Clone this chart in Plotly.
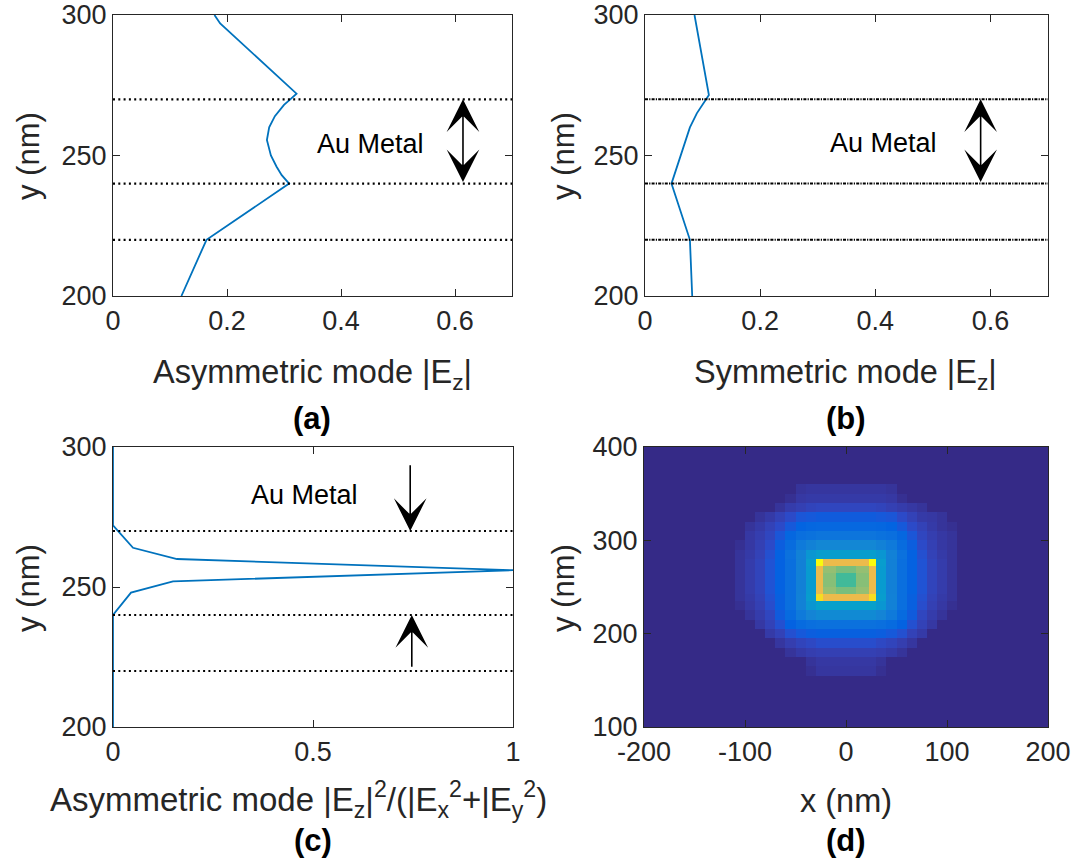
import plotly.graph_objects as go

# ---------------- data ----------------
# (a) asymmetric mode |Ez|
a_y = [200, 220, 240, 243, 246, 250, 255.5, 260, 264, 268, 270, 272, 297, 300]
a_x = [0.120, 0.164, 0.309, 0.296, 0.287, 0.277, 0.270, 0.274, 0.284, 0.300, 0.311, 0.322, 0.188, 0.178]
# (b) symmetric mode |Ez|
b_y = [200, 220, 240, 245, 250, 255, 260, 265, 270, 271.5, 300]
b_x = [0.082, 0.078, 0.046, 0.054, 0.061, 0.070, 0.078, 0.090, 0.105, 0.111, 0.086]
# (c) asymmetric mode |Ez|^2/(|Ex|^2+|Ey|^2)
c_y = [200, 240, 248, 252, 256, 260, 264, 272, 300]
c_x = [0, 0, 0.045, 0.15, 1.0, 0.16, 0.05, 0, 0]
# layer boundaries (nm)
boundaries = [270, 240, 220]

# (d) field map on a non-uniform mesh (cell edges, nm)
d_x_edges = [-200, -110, -100, -90, -80, -70, -60, -50, -40, -30, -23, -10, 0, 10, 23, 30,
             40, 50, 60, 70, 80, 90, 100, 110, 200]
d_y_edges = [100, 155, 165, 175, 185, 195, 205, 215, 225, 235, 242, 250, 258, 265, 273, 280,
             290, 300, 310, 320, 330, 340, 350, 360, 400]
d_z = [
    [0]*24,
    [0,0,0,0,0,0,0,0,0.015,0.03,0.03,0.03,0.03,0.03,0.03,0.015,0,0,0,0,0,0,0,0],
    [0,0,0,0,0,0,0,0,0.025,0.035,0.035,0.035,0.035,0.035,0.035,0.025,0,0,0,0,0,0,0,0],
    [0,0,0,0,0,0,0.025,0.04,0.05,0.055,0.055,0.055,0.055,0.055,0.055,0.05,0.04,0.025,0,0,0,0,0,0],
    [0,0,0,0,0,0.03,0.05,0.065,0.075,0.085,0.085,0.085,0.085,0.085,0.085,0.075,0.065,0.05,0.03,0,0,0,0,0],
    [0,0,0,0,0.04,0.06,0.09,0.105,0.115,0.12,0.12,0.12,0.12,0.12,0.12,0.115,0.105,0.09,0.06,0.04,0,0,0,0],
    [0,0,0,0.035,0.06,0.09,0.125,0.155,0.17,0.175,0.175,0.175,0.175,0.175,0.175,0.17,0.155,0.125,0.09,0.06,0.035,0,0,0],
    [0,0,0.025,0.045,0.07,0.11,0.155,0.21,0.25,0.27,0.27,0.27,0.27,0.27,0.27,0.25,0.21,0.155,0.11,0.07,0.045,0.025,0,0],
    [0,0.015,0.035,0.055,0.085,0.12,0.17,0.24,0.31,0.35,0.35,0.35,0.35,0.35,0.35,0.31,0.24,0.17,0.12,0.085,0.055,0.035,0.015,0],
    [0,0.025,0.04,0.06,0.09,0.12,0.17,0.24,0.34,0.95,0.8,0.8,0.8,0.8,0.95,0.34,0.24,0.17,0.12,0.09,0.06,0.04,0.025,0],
    [0,0.025,0.045,0.065,0.095,0.125,0.17,0.235,0.33,0.8,0.64,0.6,0.6,0.64,0.8,0.33,0.235,0.17,0.125,0.095,0.065,0.045,0.025,0],
    [0,0.025,0.045,0.065,0.095,0.125,0.17,0.235,0.33,0.8,0.62,0.52,0.52,0.62,0.8,0.33,0.235,0.17,0.125,0.095,0.065,0.045,0.025,0],
    [0,0.025,0.045,0.065,0.095,0.125,0.17,0.235,0.33,0.8,0.62,0.52,0.52,0.62,0.8,0.33,0.235,0.17,0.125,0.095,0.065,0.045,0.025,0],
    [0,0.025,0.045,0.065,0.095,0.125,0.17,0.235,0.33,0.8,0.64,0.6,0.6,0.64,0.8,0.33,0.235,0.17,0.125,0.095,0.065,0.045,0.025,0],
    [0,0.025,0.045,0.065,0.095,0.125,0.17,0.235,0.34,1.0,0.8,0.8,0.8,0.8,1.0,0.34,0.235,0.17,0.125,0.095,0.065,0.045,0.025,0],
    [0,0.025,0.04,0.06,0.09,0.125,0.175,0.24,0.31,0.34,0.34,0.34,0.34,0.34,0.34,0.31,0.24,0.175,0.125,0.09,0.06,0.04,0.025,0],
    [0,0.015,0.035,0.055,0.08,0.115,0.16,0.21,0.24,0.26,0.26,0.26,0.26,0.26,0.26,0.24,0.21,0.16,0.115,0.08,0.055,0.035,0.025,0],
    [0,0,0.035,0.05,0.07,0.10,0.14,0.17,0.18,0.19,0.19,0.19,0.19,0.19,0.19,0.18,0.17,0.14,0.10,0.07,0.05,0.035,0.025,0],
    [0,0,0.025,0.04,0.06,0.08,0.105,0.13,0.14,0.145,0.145,0.145,0.145,0.145,0.145,0.14,0.13,0.105,0.08,0.06,0.04,0.025,0.015,0],
    [0,0,0,0.025,0.04,0.06,0.08,0.10,0.105,0.11,0.11,0.11,0.11,0.11,0.11,0.105,0.10,0.08,0.06,0.04,0.035,0.025,0,0],
    [0,0,0,0,0,0.025,0.045,0.055,0.065,0.07,0.07,0.07,0.07,0.07,0.07,0.065,0.055,0.045,0.035,0.025,0,0,0,0],
    [0,0,0,0,0,0,0.015,0.035,0.04,0.04,0.04,0.04,0.04,0.04,0.04,0.04,0.035,0.015,0,0,0,0,0,0],
    [0,0,0,0,0,0,0,0.025,0.03,0.03,0.03,0.03,0.03,0.03,0.03,0.03,0.025,0,0,0,0,0,0,0],
    [0]*24,
]

# tick values / labels
ab_xticks = [0, 0.2, 0.4, 0.6]
ab_xlabels = ["0", "0.2", "0.4", "0.6"]
c_xticks = [0, 0.5, 1]
c_xlabels = ["0", "0.5", "1"]
abc_yticks = [200, 250, 300]
d_xticks = [-200, -100, 0, 100, 200]
d_xlabels = ["-200", "-100", "0", "100", "200"]
d_yticks = [100, 200, 300, 400]

# parula colormap (subset of 64-entry table)
parula = [
    (0, (0.2081, 0.1663, 0.5292)), (1, (0.2116, 0.1898, 0.5777)), (2, (0.2123, 0.2138, 0.6270)),
    (3, (0.2081, 0.2386, 0.6771)), (4, (0.1959, 0.2645, 0.7279)), (5, (0.1707, 0.2919, 0.7792)),
    (6, (0.1253, 0.3242, 0.8303)), (7, (0.0591, 0.3598, 0.8683)), (8, (0.0117, 0.3875, 0.8820)),
    (12, (0.0498, 0.4586, 0.8641)), (16, (0.0793, 0.5200, 0.8312)), (20, (0.0343, 0.5966, 0.8199)),
    (24, (0.0228, 0.6535, 0.7768)), (28, (0.0843, 0.6928, 0.7062)), (32, (0.2178, 0.7250, 0.6193)),
    (36, (0.3953, 0.7459, 0.5244)), (40, (0.5709, 0.7485, 0.4494)), (44, (0.7184, 0.7411, 0.3905)),
    (48, (0.8507, 0.7299, 0.3360)), (52, (0.9739, 0.7314, 0.2666)), (56, (0.9955, 0.7861, 0.1967)),
    (60, (0.9626, 0.8705, 0.1309)), (63, (0.9763, 0.9831, 0.0538)),
]
colorscale = [[i / 63, "rgb(%d,%d,%d)" % tuple(round(v * 255) for v in c)] for i, c in parula]

# ---------------- figure ----------------
W, H = 1086, 858
FONT = "Liberation Sans, Arial, Helvetica, sans-serif"
BLUE = "#0072BD"
AX = "#262626"

def px(x):
    return x / W

def py(y):
    return 1 - y / H

fig = go.Figure()

fig.add_trace(go.Scatter(x=a_x, y=a_y, mode="lines", line=dict(color=BLUE, width=1.8),
                         xaxis="x", yaxis="y", showlegend=False))
fig.add_trace(go.Scatter(x=b_x, y=b_y, mode="lines", line=dict(color=BLUE, width=1.8),
                         xaxis="x2", yaxis="y2", showlegend=False))
fig.add_trace(go.Scatter(x=c_x, y=c_y, mode="lines", line=dict(color=BLUE, width=1.8),
                         xaxis="x3", yaxis="y3", showlegend=False))
fig.add_trace(go.Heatmap(x=d_x_edges, y=d_y_edges, z=d_z, colorscale=colorscale, zmin=0, zmax=1,
                         showscale=False, xaxis="x4", yaxis="y4", zsmooth=False))

# boundary lines
for ax_i, dash, wd in [("", "2px,3.3px", 2.2), ("2", "3px,1.2px,1.2px,1.2px", 2), ("3", "2px,3.3px", 2.2)]:
    for yb in boundaries:
        fig.add_shape(type="line", xref="x%s domain" % ax_i, yref="y%s" % ax_i,
                      x0=0, x1=1, y0=yb, y1=yb,
                      line=dict(color="black", width=wd, dash=dash))

axis_common = dict(showline=True, linecolor=AX, linewidth=1.3, mirror="ticks", ticks="inside",
                   ticklen=7, tickwidth=1.3, tickcolor=AX, showgrid=False, zeroline=False,
                   automargin=False, tickfont=dict(family=FONT, size=27, color=AX))

dom_x_left = [px(113), px(512)]
dom_x_right = [px(645), px(1048)]
dom_y_top = [py(296), py(15)]
dom_y_bot = [py(727), py(447)]

fig.update_layout(
    width=W, height=H, margin=dict(l=0, r=0, t=0, b=0, autoexpand=False),
    paper_bgcolor="white", plot_bgcolor="white",
    xaxis=dict(axis_common, domain=dom_x_left, range=[0, 0.7], tickvals=ab_xticks,
               ticktext=ab_xlabels, anchor="y"),
    yaxis=dict(axis_common, domain=dom_y_top, range=[200, 300], tickvals=abc_yticks, anchor="x"),
    xaxis2=dict(axis_common, domain=dom_x_right, range=[0, 0.7], tickvals=ab_xticks,
                ticktext=ab_xlabels, anchor="y2"),
    yaxis2=dict(axis_common, domain=dom_y_top, range=[200, 300], tickvals=abc_yticks, anchor="x2"),
    xaxis3=dict(axis_common, domain=[px(113), px(513)], range=[0, 1], tickvals=c_xticks,
                ticktext=c_xlabels, anchor="y3"),
    yaxis3=dict(axis_common, domain=dom_y_bot, range=[200, 300], tickvals=abc_yticks, anchor="x3"),
    xaxis4=dict(axis_common, domain=[px(644), px(1048)], range=[-200, 200], tickvals=d_xticks,
                ticktext=d_xlabels, anchor="y4"),
    yaxis4=dict(axis_common, domain=dom_y_bot, range=[100, 400], tickvals=d_yticks, anchor="x4"),
)

ann = []
def label(text, x, y, size=32.5, bold=False, angle=0, color=AX):
    ann.append(dict(text=("<b>%s</b>" % text) if bold else text, x=px(x), y=py(y),
                    xref="paper", yref="paper", showarrow=False, textangle=angle,
                    xanchor="center", yanchor="middle",
                    font=dict(family=FONT, size=size, color=color)))

label("Asymmetric mode |E<sub>z</sub>|", 312, 374)
label("Symmetric mode |E<sub>z</sub>|", 845, 374)
label("Asymmetric mode |E<sub>z</sub>|<sup>2</sup>/(|E<sub>x</sub><sup>2</sup>+|E<sub>y</sub><sup>2</sup>)", 298, 799, size=33)
label("x (nm)", 846, 801)
label("(a)", 312, 418, size=31, bold=True, color="black")
label("(b)", 846, 418, size=31, bold=True, color="black")
label("(c)", 313, 840, size=31, bold=True, color="black")
label("(d)", 846, 840, size=31, bold=True, color="black")
for yy in (156, 588):
    for xx in (28, 563):
        label("y (nm)", xx, yy, size=31, angle=-90)

# Au Metal texts
for xa, xt, yt in [("x", 0.451, 254), ("x2", 0.415, 254.5), ("x3", 0.478, 283)]:
    ya = xa.replace("x", "y")
    ann.append(dict(text="Au Metal", x=xt, y=yt, xref=xa, yref=ya, showarrow=False,
                    font=dict(family=FONT, size=27, color="black")))

# arrows
arrow_style = dict(showarrow=True, arrowhead=3, arrowsize=3.4, arrowwidth=1.6, arrowcolor="black",
                   text="", standoff=0, startstandoff=0)
ann.append(dict(arrow_style, x=0.614, y=270, ax=0.614, ay=240, xref="x", yref="y",
                axref="x", ayref="y", arrowside="end+start", startarrowhead=3, startarrowsize=3.4))
ann.append(dict(arrow_style, x=0.583, y=270, ax=0.583, ay=240, xref="x2", yref="y2",
                axref="x2", ayref="y2", arrowside="end+start", startarrowhead=3, startarrowsize=3.4))
ann.append(dict(arrow_style, x=0.743, y=270, ax=0.743, ay=294, xref="x3", yref="y3",
                axref="x3", ayref="y3"))
ann.append(dict(arrow_style, x=0.747, y=240, ax=0.747, ay=221, xref="x3", yref="y3",
                axref="x3", ayref="y3"))

fig.update_layout(annotations=ann)
fig.write_html("out.html")
